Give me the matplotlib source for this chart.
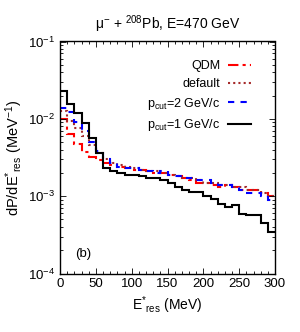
import numpy as np
import matplotlib.pyplot as plt
from matplotlib.ticker import MultipleLocator, LogLocator, NullFormatter

plt.rcParams['font.family'] = ['Liberation Sans', 'DejaVu Sans']
plt.rcParams['mathtext.fontset'] = 'custom'
plt.rcParams['mathtext.rm'] = 'Liberation Sans'
plt.rcParams['mathtext.it'] = 'Liberation Sans:italic'

# bin edges in MeV (10 MeV bins)
edges = np.arange(0, 310, 10)

qdm = [0.0101, 0.0063, 0.0047, 0.0037, 0.0032, 0.0029, 0.0027, 0.0025, 0.0024, 0.0023,
       0.0022, 0.0022, 0.0021, 0.0020, 0.0020, 0.0019, 0.0018, 0.0017, 0.0016, 0.0015,
       0.0015, 0.0014, 0.0013, 0.0014, 0.0013, 0.0012, 0.0012, 0.0012, 0.0011, 0.0010]
default = [0.0125, 0.0095, 0.0076, 0.0060, 0.0046, 0.0036, 0.0030, 0.0027, 0.0025, 0.0024,
           0.0023, 0.0022, 0.0021, 0.0021, 0.0020, 0.0019, 0.0018, 0.0017, 0.0017, 0.0016,
           0.0015, 0.0015, 0.0014, 0.0014, 0.0013, 0.0013, 0.0012, 0.0012, 0.0011, 0.0010]
pcut2 = [0.0140, 0.0122, 0.0092, 0.0070, 0.0050, 0.0038, 0.0030, 0.0027, 0.0024, 0.0023,
         0.0023, 0.0022, 0.0021, 0.0020, 0.0021, 0.0019, 0.0018, 0.0017, 0.0017, 0.0016,
         0.0016, 0.0015, 0.0014, 0.0014, 0.0013, 0.0012, 0.0011, 0.0011, 0.0010, 0.0009]
pcut1 = [0.0229, 0.0155, 0.0119, 0.0088, 0.0057, 0.0036, 0.0023, 0.0021, 0.0020, 0.0019,
         0.0019, 0.0018, 0.0017, 0.0017, 0.0016, 0.0015, 0.0013, 0.0012, 0.00114, 0.00112,
         0.00100, 0.00092, 0.00080, 0.00073, 0.00077, 0.00059, 0.00058, 0.00058, 0.00045, 0.00034]

fig = plt.figure(figsize=(3.0, 3.32), dpi=100)
ax = fig.add_axes([0.2, 0.176, 0.7167, 0.699])

h1 = ax.stairs(qdm, edges, baseline=None, color='red', lw=1.5,
               linestyle=(0, (5, 2, 1.5, 2)), label='QDM')
h2 = ax.stairs(default, edges, baseline=None, color='#a52a2a', lw=1.5,
               linestyle=(0, (1, 1.5)), label='default')
h3 = ax.stairs(pcut2, edges, baseline=None, color='blue', lw=1.5,
               linestyle=(0, (3, 3)), label=r'p$_{\rm cut}$=2 GeV/c')
h4 = ax.stairs(pcut1, edges, baseline=None, color='black', lw=1.5,
               label=r'p$_{\rm cut}$=1 GeV/c')

ax.set_yscale('log')
ax.set_xlim(0, 300)
ax.set_ylim(1e-4, 1e-1)
ax.xaxis.set_major_locator(MultipleLocator(50))
ax.xaxis.set_minor_locator(MultipleLocator(10))
ax.yaxis.set_major_locator(LogLocator(base=10, numticks=10))
ax.yaxis.set_minor_locator(LogLocator(base=10, subs=np.arange(2, 10), numticks=10))
ax.yaxis.set_minor_formatter(NullFormatter())
ax.tick_params(which='both', direction='in', top=True, right=True, labelsize=9.5)
ax.tick_params(which='major', length=4, width=0.6)
ax.tick_params(which='minor', length=2, width=0.6)
for s in ax.spines.values():
    s.set_linewidth(1.0)

ax.set_xlabel(r'E$^{*}$$_{\rm res}$ (MeV)', fontsize=10, labelpad=3)
ax.set_ylabel(r'dP/dE$^{*}$$_{\rm res}$ (MeV$^{-1}$)', fontsize=10.5, labelpad=2)
ax.set_title('μ$^{-}$ + $^{208}$Pb, E=470 GeV', fontsize=10, pad=9)
ax.text(0.07, 0.07, '(b)', transform=ax.transAxes, fontsize=9.5)

ax.legend(handles=[h1, h2, h3, h4], loc='upper right', frameon=False, fontsize=9,
          markerfirst=False, handlelength=1.8, handletextpad=0.6,
          labelspacing=0.45, bbox_to_anchor=(0.91, 0.94), borderaxespad=0)

fig.savefig('out.png', dpi=100)
